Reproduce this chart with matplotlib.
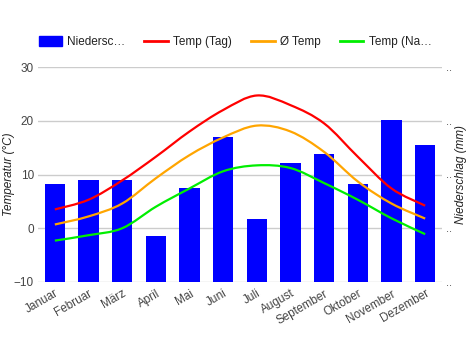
import numpy as np
import matplotlib
matplotlib.use("Agg")
import matplotlib.pyplot as plt
from matplotlib.path import Path
from matplotlib.patches import PathPatch
from matplotlib.lines import Line2D
from matplotlib.patches import Patch

plt.rcParams['font.family'] = ['Liberation Sans', 'DejaVu Sans']

monate = ["Januar", "Februar", "März", "April", "Mai", "Juni", "Juli",
          "August", "September", "Oktober", "November", "Dezember"]
niederschlag = [18.2, 19.0, 19.0, 8.6, 17.5, 27.0, 11.7, 22.1, 23.8, 18.2, 30.1, 25.5]
temp_tag = [3.5, 5.3, 8.9, 13.3, 18.0, 22.0, 24.7, 22.9, 19.5, 13.3, 7.4, 4.2]
temp_mittel = [0.7, 2.2, 4.6, 9.3, 13.6, 16.9, 19.1, 18.0, 14.2, 8.7, 4.6, 1.8]
temp_nacht = [-2.3, -1.3, 0.0, 4.0, 7.4, 10.6, 11.7, 11.2, 8.4, 5.3, 1.85, -1.1]

grau = "#444444"

fig = plt.figure(figsize=(4.7, 3.5), dpi=100)
ax2 = fig.add_axes([38/470, 68/350, 404/470, 215/350])
ax = ax2.twinx()
ax.set_zorder(ax2.get_zorder() + 1)
ax.patch.set_visible(False)

x = np.arange(len(monate))

# balken auf niederschlagsachse (hinten)
ax2.bar(x, niederschlag, width=0.6, color="#0000ff", zorder=3)
ax2.set_ylim(0, 40)
ax2.set_yticks([0, 10, 20, 30, 40])
ax2.set_yticklabels([".."] * 5)
ax2.yaxis.tick_right()
ax2.yaxis.set_label_position("right")
ax2.grid(axis="y", color="#cccccc", linewidth=1, zorder=0)
ax2.set_axisbelow(True)
ax2.tick_params(axis="y", length=0, pad=3, labelcolor=grau, labelsize=8)
ax2.set_ylabel("Niederschlag (mm)", style="italic", color="#222222", fontsize=8.5)
ax2.yaxis.set_label_coords(1.033, 0.5)
ax2.set_xlim(-0.5, 11.5)
ax2.set_xticks(x)
ax2.set_xticklabels(monate, rotation=30, ha="right", rotation_mode="anchor",
                    color=grau, fontsize=8.5)
ax2.tick_params(axis="x", length=0, pad=4)


def glatte_kurve(xs, ys):
    verts = [(xs[0], ys[0])]
    codes = [Path.MOVETO]
    n = len(xs)
    for i in range(n - 1):
        x0, y0 = xs[max(i - 1, 0)], ys[max(i - 1, 0)]
        x1, y1 = xs[i], ys[i]
        x2, y2 = xs[i + 1], ys[i + 1]
        x3, y3 = xs[min(i + 2, n - 1)], ys[min(i + 2, n - 1)]
        c1 = (x1 + (x2 - x0) / 6, y1 + (y2 - y0) / 6)
        c2 = (x2 - (x3 - x1) / 6, y2 - (y3 - y1) / 6)
        verts += [c1, c2, (x2, y2)]
        codes += [Path.CURVE4] * 3
    return Path(verts, codes)


for werte, farbe in [(temp_tag, "#ff0000"), (temp_mittel, "#ffa500"), (temp_nacht, "#00ee00")]:
    ax.add_patch(PathPatch(glatte_kurve(x, werte), facecolor="none", edgecolor=farbe,
                           linewidth=1.6, zorder=4))

ax.set_ylim(-10, 30)
ax.set_yticks([-10, 0, 10, 20, 30])
ax.yaxis.tick_left()
ax.yaxis.set_label_position("left")
ax.tick_params(axis="y", length=0, pad=3, labelcolor=grau, labelsize=8.5)
ax.set_ylabel("Temperatur (°C)", style="italic", color="#222222", fontsize=8.5)
ax.yaxis.set_label_coords(-0.058, 0.5)
ax.set_xlim(-0.5, 11.5)

for a in (ax, ax2):
    for s in a.spines.values():
        s.set_visible(False)

handles = [Patch(color="#0000ff"),
           Line2D([], [], color="#ff0000", lw=2),
           Line2D([], [], color="#ffa500", lw=2),
           Line2D([], [], color="#00ee00", lw=2)]
labels = ["Niedersc…", "Temp (Tag)", "Ø Temp", "Temp (Na…"]
fig.legend(handles, labels, loc="center left", bbox_to_anchor=(35/470, 1 - 42/350),
           ncol=4, frameon=False, fontsize=8.5, handlelength=2.0, handleheight=0.9,
           columnspacing=1.6, handletextpad=0.45, labelcolor="#222222",
           borderaxespad=0, borderpad=0.3)

fig.savefig("out.png", dpi=100)
